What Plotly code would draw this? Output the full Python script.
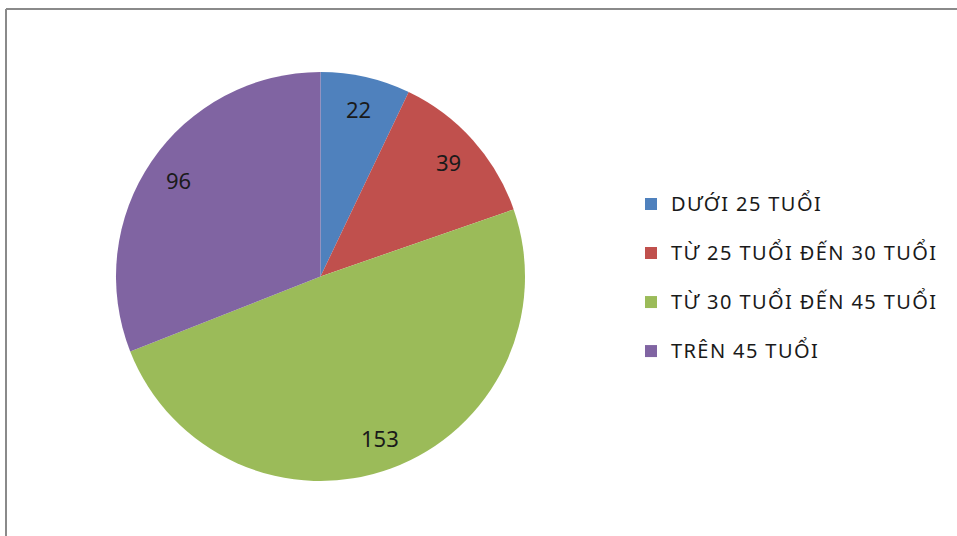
import math
import plotly.graph_objects as go

categories = ["DƯỚI 25 TUỔI", "TỪ 25 TUỔI ĐẾN 30 TUỔI", "TỪ 30 TUỔI ĐẾN 45 TUỔI", "TRÊN 45 TUỔI"]
values = [22, 39, 153, 96]
colors = ["#4F81BD", "#C0504D", "#9BBB59", "#8064A2"]

W, H = 957, 536
cx_px, cy_px, r_px = 320.5, 276.5, 204.5
FONT = "Noto Sans"

fig = go.Figure()
fig.add_trace(go.Pie(
    labels=[f"<span style='font-size:20px;letter-spacing:1.4px'>{c}</span><br> " for c in categories],
    values=values,
    marker=dict(colors=colors, line=dict(width=0)),
    sort=False,
    direction="clockwise",
    rotation=0,
    textinfo="none",
    hoverinfo="value",
    domain=dict(x=[(cx_px - r_px) / W, (cx_px + r_px) / W],
                y=[1 - (cy_px + r_px) / H, 1 - (cy_px - r_px) / H]),
))

# data labels placed at 0.84 radius on each slice's mid-angle
total = sum(values)
cum = 0
for v in values:
    mid = (cum + v / 2) / total * 2 * math.pi
    cum += v
    x = (cx_px + 0.84 * r_px * math.sin(mid)) / W
    y = 1 - (cy_px - 0.84 * r_px * math.cos(mid)) / H
    fig.add_annotation(x=x, y=y, xref="paper", yref="paper", text=str(v),
                       xanchor="center", yanchor="middle", showarrow=False,
                       font=dict(size=22, color="#1a1a1a", family=FONT))

# chart frame (top and left edges visible)
fig.add_shape(type="line", xref="paper", yref="paper", x0=6 / W, x1=1.0, y0=1 - 9 / H, y1=1 - 9 / H,
              line=dict(color="#8a8a8a", width=2))
fig.add_shape(type="line", xref="paper", yref="paper", x0=6 / W, x1=6 / W, y0=0, y1=1 - 9 / H,
              line=dict(color="#8a8a8a", width=2))

fig.update_layout(
    width=W, height=H,
    margin=dict(l=0, r=0, t=0, b=0),
    paper_bgcolor="white", plot_bgcolor="white",
    showlegend=True,
    legend=dict(x=631 / W, y=1 - 186 / H, xanchor="left", yanchor="top",
                font=dict(size=17.7, family=FONT, color="#1a1a1a"),
                valign="top", itemwidth=30, bgcolor="rgba(0,0,0,0)"),
)

fig.write_html("out.html", config={"displayModeBar": False},
               post_script="document.body.style.margin='0';document.body.style.overflow='hidden';")
